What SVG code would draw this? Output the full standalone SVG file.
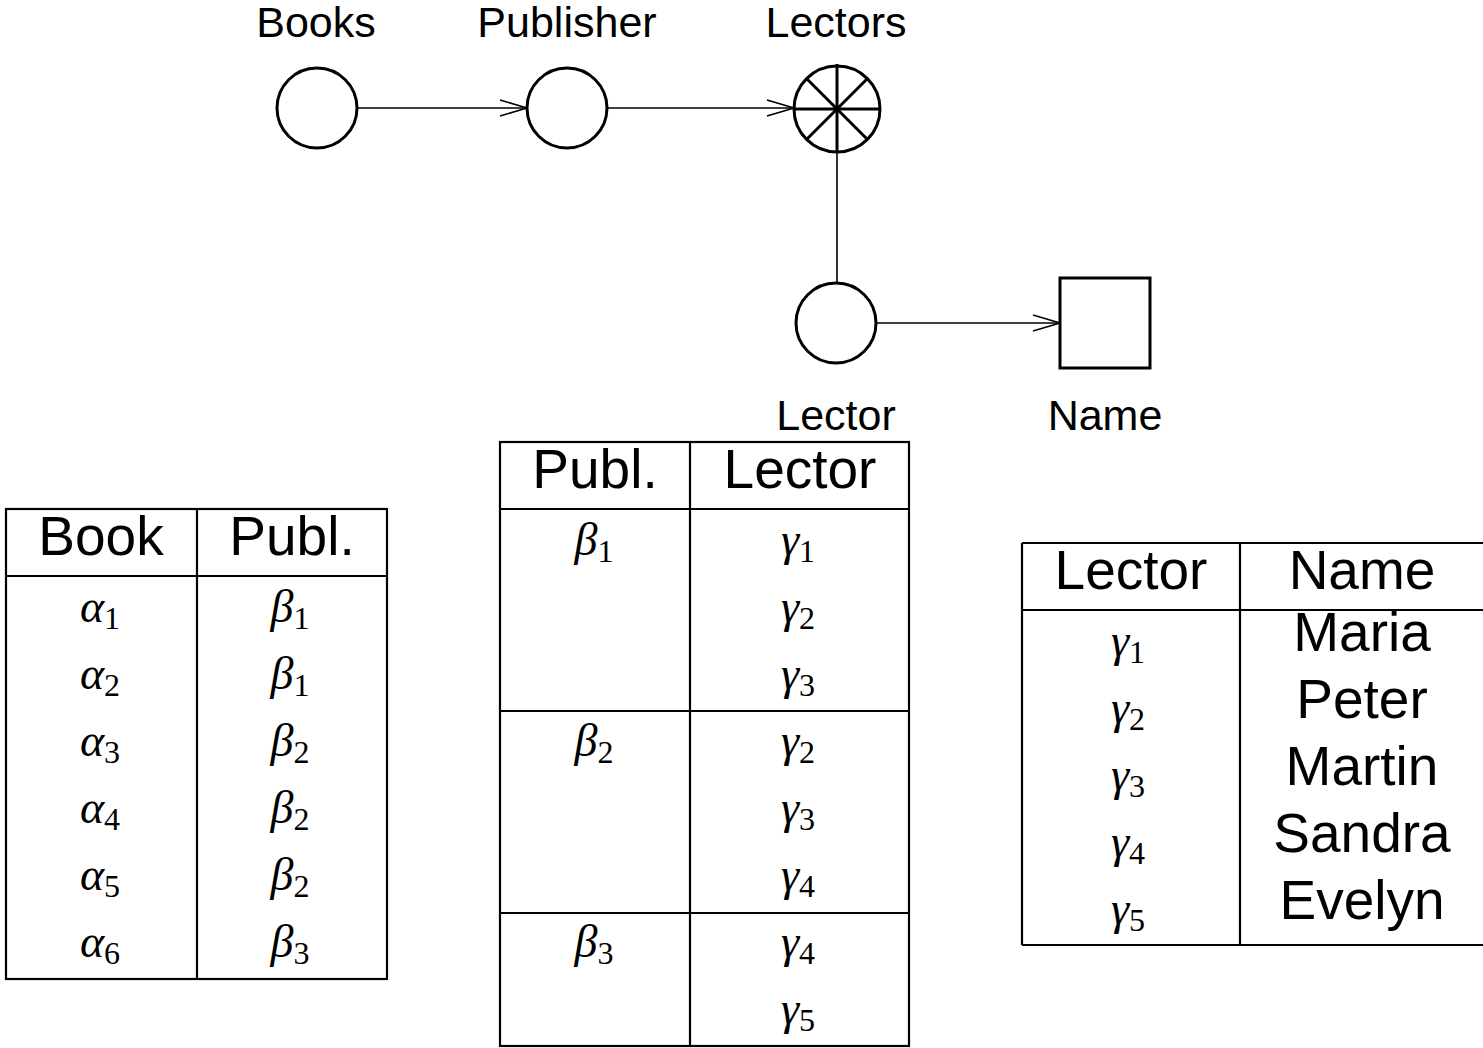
<svg xmlns="http://www.w3.org/2000/svg" width="1483" height="1048" viewBox="0 0 1483 1048">
  <style>
    .node { fill: #fff; stroke: #000; stroke-width: 3; }
    .spoke { stroke: #000; stroke-width: 3; fill: none; }
    .edge { stroke: #000; stroke-width: 1.6; fill: none; }
    .rule { stroke: #000; stroke-width: 2.2; fill: none; }
    .lbl { font-size: 43px; fill: #000; text-anchor: middle; }
    .hd { font-size: 55px; fill: #000; text-anchor: middle; }
    .m { fill: #000; text-anchor: middle; }
    .g { font-style: italic; font-size: 46px; }
    .s { font-size: 32px; }
  </style>
  <defs>
    <marker id="open" markerUnits="userSpaceOnUse" markerWidth="32" markerHeight="22" refX="28" refY="10" orient="auto" viewBox="0 0 32 22">
      <path d="M1,2 L28,10 L1,18" fill="none" stroke="#000" stroke-width="1.6"/>
    </marker>
  </defs>
  <rect width="1483" height="1048" fill="#fff"/>

  <!-- schema graph connectors -->
  <g id="connectors">
    <line class="edge" x1="357" y1="108" x2="527" y2="108" marker-end="url(#open)"/>
    <line class="edge" x1="607" y1="108" x2="794" y2="108" marker-end="url(#open)"/>
    <line class="edge" x1="837" y1="152" x2="837" y2="284"/>
    <line class="edge" x1="876" y1="323" x2="1060" y2="323" marker-end="url(#open)"/>
  </g>

  <g font-family="'Liberation Sans', Arial, sans-serif">
    <g id="books">
      <circle class="node" cx="317" cy="108" r="40"/>
      <text class="lbl" x="316" y="37">Books</text>
    </g>
    <g id="publisher">
      <circle class="node" cx="567" cy="108" r="40"/>
      <text class="lbl" x="567" y="37">Publisher</text>
    </g>
    <g id="lectors">
      <circle class="node" cx="837" cy="109" r="43"/>
      <line class="spoke" x1="837" y1="64" x2="837" y2="152"/>
      <line class="spoke" x1="794" y1="109" x2="880" y2="109"/>
      <line class="spoke" x1="806" y1="78" x2="868" y2="140"/>
      <line class="spoke" x1="868" y1="78" x2="806" y2="140"/>
      <text class="lbl" x="836" y="37">Lectors</text>
    </g>
    <g id="lector">
      <circle class="node" cx="836" cy="323" r="40"/>
      <text class="lbl" x="836" y="430">Lector</text>
    </g>
    <g id="name">
      <rect class="node" x="1060" y="278" width="90" height="90"/>
      <text class="lbl" x="1105" y="430">Name</text>
    </g>
  </g>

  <!-- table: Book / Publ. -->
  <g id="table-book-publ">
    <rect class="rule" x="6" y="509" width="381" height="470"/>
    <line class="rule" x1="6" y1="576" x2="387" y2="576"/>
    <line class="rule" x1="197" y1="509" x2="197" y2="979"/>
    <g font-family="'Liberation Sans', Arial, sans-serif">
      <text class="hd" x="101" y="555">Book</text>
      <text class="hd" x="292" y="555">Publ.</text>
    </g>
    <g font-family="'Liberation Serif', 'Times New Roman', serif">
      <text class="m" x="100" y="622"><tspan class="g">α</tspan><tspan class="s" dy="7">1</tspan></text>
      <text class="m" x="100" y="689"><tspan class="g">α</tspan><tspan class="s" dy="7">2</tspan></text>
      <text class="m" x="100" y="756"><tspan class="g">α</tspan><tspan class="s" dy="7">3</tspan></text>
      <text class="m" x="100" y="823"><tspan class="g">α</tspan><tspan class="s" dy="7">4</tspan></text>
      <text class="m" x="100" y="890"><tspan class="g">α</tspan><tspan class="s" dy="7">5</tspan></text>
      <text class="m" x="100" y="957"><tspan class="g">α</tspan><tspan class="s" dy="7">6</tspan></text>
      <text class="m" x="290" y="622"><tspan class="g">β</tspan><tspan class="s" dy="7">1</tspan></text>
      <text class="m" x="290" y="689"><tspan class="g">β</tspan><tspan class="s" dy="7">1</tspan></text>
      <text class="m" x="290" y="756"><tspan class="g">β</tspan><tspan class="s" dy="7">2</tspan></text>
      <text class="m" x="290" y="823"><tspan class="g">β</tspan><tspan class="s" dy="7">2</tspan></text>
      <text class="m" x="290" y="890"><tspan class="g">β</tspan><tspan class="s" dy="7">2</tspan></text>
      <text class="m" x="290" y="957"><tspan class="g">β</tspan><tspan class="s" dy="7">3</tspan></text>
    </g>
  </g>

  <!-- table: Publ. / Lector -->
  <g id="table-publ-lector">
    <rect class="rule" x="500" y="442" width="409" height="604"/>
    <line class="rule" x1="500" y1="509" x2="909" y2="509"/>
    <line class="rule" x1="500" y1="711" x2="909" y2="711"/>
    <line class="rule" x1="500" y1="913" x2="909" y2="913"/>
    <line class="rule" x1="690" y1="442" x2="690" y2="1046"/>
    <g font-family="'Liberation Sans', Arial, sans-serif">
      <text class="hd" x="595" y="488">Publ.</text>
      <text class="hd" x="800" y="488">Lector</text>
    </g>
    <g font-family="'Liberation Serif', 'Times New Roman', serif">
      <text class="m" x="594" y="555"><tspan class="g">β</tspan><tspan class="s" dy="7">1</tspan></text>
      <text class="m" x="594" y="756"><tspan class="g">β</tspan><tspan class="s" dy="7">2</tspan></text>
      <text class="m" x="594" y="957"><tspan class="g">β</tspan><tspan class="s" dy="7">3</tspan></text>
      <text class="m" x="798" y="555"><tspan class="g">γ</tspan><tspan class="s" dy="7">1</tspan></text>
      <text class="m" x="798" y="622"><tspan class="g">γ</tspan><tspan class="s" dy="7">2</tspan></text>
      <text class="m" x="798" y="689"><tspan class="g">γ</tspan><tspan class="s" dy="7">3</tspan></text>
      <text class="m" x="798" y="756"><tspan class="g">γ</tspan><tspan class="s" dy="7">2</tspan></text>
      <text class="m" x="798" y="823"><tspan class="g">γ</tspan><tspan class="s" dy="7">3</tspan></text>
      <text class="m" x="798" y="890"><tspan class="g">γ</tspan><tspan class="s" dy="7">4</tspan></text>
      <text class="m" x="798" y="957"><tspan class="g">γ</tspan><tspan class="s" dy="7">4</tspan></text>
      <text class="m" x="798" y="1024"><tspan class="g">γ</tspan><tspan class="s" dy="7">5</tspan></text>
    </g>
  </g>

  <!-- table: Lector / Name (runs off the right edge) -->
  <g id="table-lector-name">
    <line class="rule" x1="1022" y1="543" x2="1490" y2="543"/>
    <line class="rule" x1="1022" y1="610" x2="1490" y2="610"/>
    <line class="rule" x1="1022" y1="945" x2="1490" y2="945"/>
    <line class="rule" x1="1022" y1="543" x2="1022" y2="945"/>
    <line class="rule" x1="1240" y1="543" x2="1240" y2="945"/>
    <g font-family="'Liberation Sans', Arial, sans-serif">
      <text class="hd" x="1131" y="589">Lector</text>
      <text class="hd" x="1362" y="589">Name</text>
      <text class="hd" x="1362" y="651">Maria</text>
      <text class="hd" x="1362" y="718">Peter</text>
      <text class="hd" x="1362" y="785">Martin</text>
      <text class="hd" x="1362" y="852">Sandra</text>
      <text class="hd" x="1362" y="919">Evelyn</text>
    </g>
    <g font-family="'Liberation Serif', 'Times New Roman', serif">
      <text class="m" x="1128" y="656"><tspan class="g">γ</tspan><tspan class="s" dy="7">1</tspan></text>
      <text class="m" x="1128" y="723"><tspan class="g">γ</tspan><tspan class="s" dy="7">2</tspan></text>
      <text class="m" x="1128" y="790"><tspan class="g">γ</tspan><tspan class="s" dy="7">3</tspan></text>
      <text class="m" x="1128" y="857"><tspan class="g">γ</tspan><tspan class="s" dy="7">4</tspan></text>
      <text class="m" x="1128" y="924"><tspan class="g">γ</tspan><tspan class="s" dy="7">5</tspan></text>
    </g>
  </g>
</svg>
